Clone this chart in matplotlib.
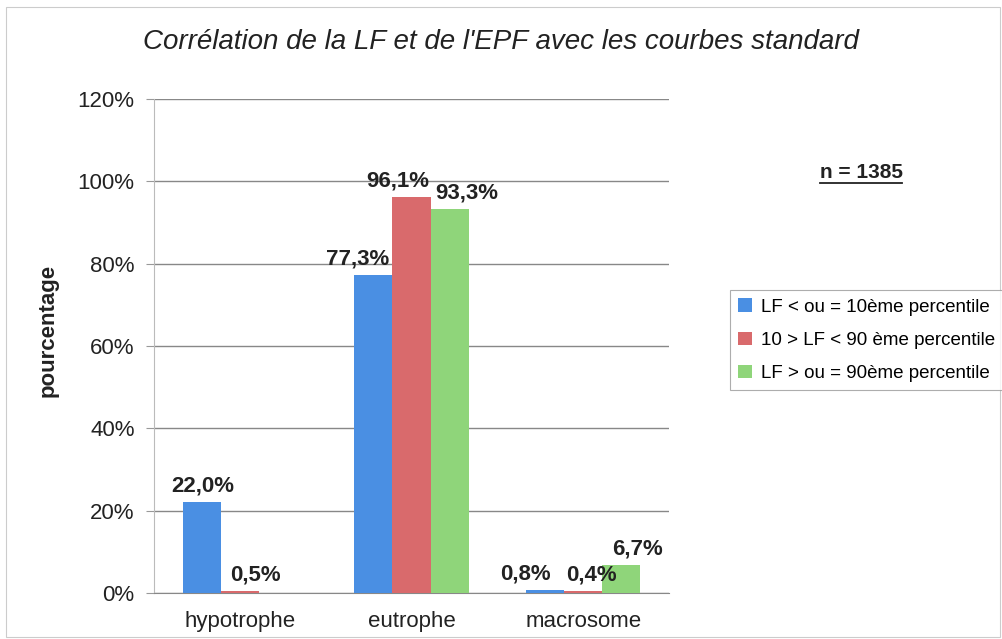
import matplotlib
matplotlib.use("Agg")
import matplotlib.pyplot as plt
import numpy as np
from matplotlib.patches import Rectangle

categories = ["hypotrophe", "eutrophe", "macrosome"]
series_names = ["LF < ou = 10ème percentile",
                "10 > LF < 90 ème percentile",
                "LF > ou = 90ème percentile"]
s1 = [22.0, 77.3, 0.8]
s2 = [0.5, 96.1, 0.4]
s3 = [0.0, 93.3, 6.7]
labels1 = ["22,0%", "77,3%", "0,8%"]
labels2 = ["0,5%", "96,1%", "0,4%"]
labels3 = ["", "93,3%", "6,7%"]
yticks = [0, 20, 40, 60, 80, 100, 120]
ytick_labels = ["0%", "20%", "40%", "60%", "80%", "100%", "120%"]

colors = ["#4a8fe3", "#d96a6c", "#8fd57a"]
plt.rcParams['font.family'] = ['Liberation Sans', 'DejaVu Sans']

fig = plt.figure(figsize=(10.02, 6.39), dpi=100)
ax = fig.add_axes([154/1002, 46/639, 515/1002, 494/639])

x = np.arange(len(categories))
w = 0.222
series = [s1, s2, s3]
labs = [labels1, labels2, labels3]
# label x offsets in points (style)
offs = [[1, -11, -14], [11, -10, 6], [0, 12, 12]]
handles = []
for i, (vals, lab) in enumerate(zip(series, labs)):
    pos = x + (i - 1) * w
    b = ax.bar(pos, vals, w, color=colors[i], label=series_names[i], zorder=3)
    handles.append(b)
    for j, (p, v, t) in enumerate(zip(pos, vals, lab)):
        if t:
            ax.annotate(t, (p, v), xytext=(offs[i][j], 4), textcoords="offset points",
                        ha="center", va="bottom", fontsize=16, fontweight="bold",
                        color="#222222", zorder=4)

ax.set_xlim(-0.5, 2.5)
ax.set_ylim(0, 120)
ax.set_yticks(yticks)
ax.set_yticklabels(ytick_labels, fontsize=16, color="#222222")
ax.set_xticks(x)
ax.set_xticklabels(categories, fontsize=16, color="#222222")
ax.tick_params(axis='x', length=0, pad=13)
ax.tick_params(axis='y', length=6, color="#999999", pad=8)
ax.grid(axis='y', color="#888888", linewidth=1.0, zorder=0)
for s in ["top", "right"]:
    ax.spines[s].set_visible(False)
ax.spines["left"].set_color("#bbbbbb")
ax.spines["bottom"].set_color("#888888")
ax.set_ylabel("pourcentage", fontsize=16, fontweight="bold", color="#222222")
ax.yaxis.set_label_coords(-0.185, (593 - 330) / 494)

fig.text(0.5, 1 - 42/639, "Corrélation de la LF et de l'EPF avec les courbes standard",
         ha="center", va="center", fontsize=20, style="italic", color="#222222")
fig.text(861/1002, 1 - 172/639, "n = 1385", ha="center", va="center",
         fontsize=15, fontweight="bold", color="#222222")
# underline
fig.add_artist(plt.Line2D([820/1002, 902/1002], [1 - 183/639, 1 - 183/639],
                          color="#222222", linewidth=1.3))

leg = fig.legend(handles=handles, loc="upper left", bbox_to_anchor=(730/1002, 1 - 290/639),
                 fontsize=13.5, frameon=True, fancybox=False, edgecolor="#999999",
                 handlelength=0.7, handleheight=0.7, handletextpad=0.5,
                 labelspacing=0.85, borderpad=0.45, borderaxespad=0)
leg.get_frame().set_linewidth(0.8)

fig.add_artist(Rectangle((6/1002, 2/639), 994/1002, 630/639, transform=fig.transFigure,
                         fill=False, edgecolor="#cccccc", linewidth=0.8))

fig.savefig("out.png", dpi=100)
